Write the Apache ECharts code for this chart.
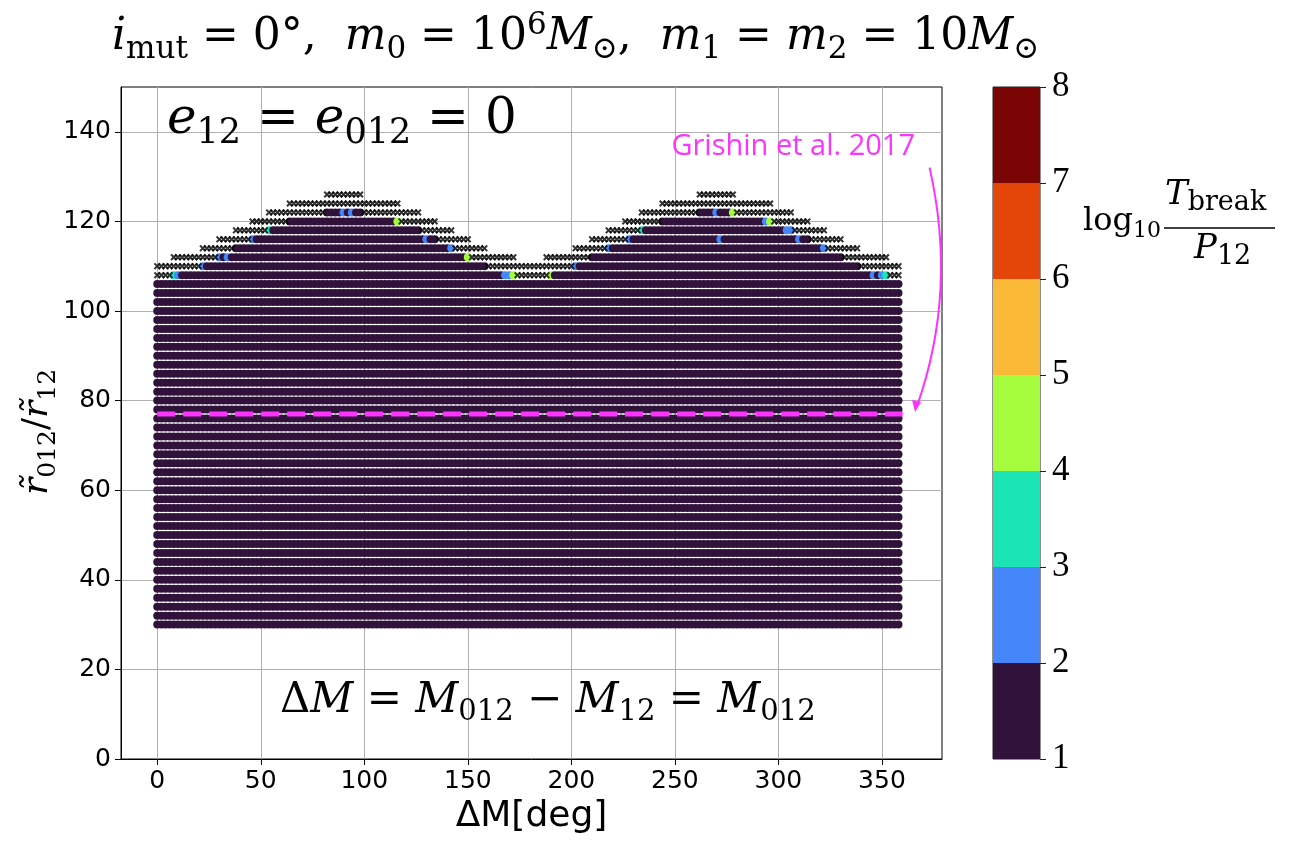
<!DOCTYPE html>
<html>
<head>
<meta charset="utf-8">
<script src="https://cdn.jsdelivr.net/npm/echarts@6/dist/echarts.min.js"></script>
<style>
  html, body { margin: 0; background: #fff; }
  #chart { width: 1295px; height: 842px; }
</style>
</head>
<body>
<div id="chart"></div>
<script>
// axis ticks
const xTicks = [0, 50, 100, 150, 200, 250, 300, 350];
const yTicks = [0, 20, 40, 60, 80, 100, 120, 140];

// colour bar: log10(Tbreak/P12) levels and band colours
const cbLevels = [1, 2, 3, 4, 5, 6, 7, 8];
const cbColors = ['#30123b', '#4686fb', '#1be5b5', '#a4fc3c', '#fbb938', '#e4460a', '#7a0403'];

// sampling of the scan
const dmStep = 2;          // deg
const dmLast = 358;
const rowStep = 2;
const rowFirst = 30;
const rowFullLast = 106;   // rows up to here are stable everywhere
const stableLog = 1.5;     // bulk value (lowest band)

// upper rows: [crossFrom, stableFrom, stableTo, crossTo] for each hump, null = no stable part
const topRows = [108, 110, 112, 114, 116, 118, 120, 122, 124, 126];
const hump1 = [
  [0, 8, 172, 188], [0, 22, 158, 180], [8, 30, 150, 172], [22, 38, 142, 158],
  [30, 46, 134, 150], [38, 54, 126, 142], [46, 64, 116, 134], [54, 82, 98, 126],
  [64, null, null, 116], [82, null, null, 98]
];
const hump2 = [
  [190, 190, 352, 358], [182, 202, 338, 358], [188, 210, 330, 352], [202, 218, 322, 338],
  [210, 228, 314, 330], [218, 234, 306, 322], [226, 244, 296, 314], [234, 262, 278, 306],
  [244, null, null, 296], [262, null, null, 278]
];

// points that are not in the lowest band: [dM, r, log10 Tbreak/P12]
const oddPts = [
  [90, 122, 2.5], [94, 122, 2.5], [116, 120, 4.5], [54, 118, 3.5], [46, 116, 2.5],
  [130, 116, 2.5], [142, 114, 2.5], [30, 112, 2.5], [34, 112, 2.5], [150, 112, 4.5],
  [22, 110, 2.5], [8, 108, 3.5], [10, 108, 2.5], [168, 108, 2.5], [170, 108, 2.5],
  [172, 108, 4.5],
  [270, 122, 2.5], [278, 122, 4.5], [294, 120, 2.5], [296, 120, 4.5], [234, 118, 3.5],
  [304, 118, 2.5], [306, 118, 2.5], [228, 116, 2.5], [272, 116, 2.5], [310, 116, 2.5],
  [218, 114, 2.5], [322, 114, 2.5], [202, 110, 2.5], [190, 108, 4.5], [346, 108, 2.5],
  [350, 108, 2.5], [352, 108, 3.5]
];

// Grishin et al. 2017 stability limit
const grishinY = 77;
const grishinX = [0, 360];

// ---- build series data
const oddMap = {};
oddPts.forEach(function (p) { oddMap[p[0] + '_' + p[1]] = p[2]; });

let stable = [];
let crossed = [];
function addStable(x, y) {
  let v = oddMap[x + '_' + y];
  stable.push([x, y, v === undefined ? stableLog : v]);
}
for (let y = rowFirst; y <= rowFullLast; y += rowStep) {
  for (let x = 0; x <= dmLast; x += dmStep) addStable(x, y);
}
topRows.forEach(function (y, i) {
  [hump1[i], hump2[i]].forEach(function (h) {
    let cFrom = h[0], sFrom = h[1], sTo = h[2], cTo = h[3];
    if (sFrom === null) {
      for (let x = cFrom; x <= cTo; x += dmStep) crossed.push([x, y]);
      return;
    }
    for (let x = cFrom; x < sFrom; x += dmStep) crossed.push([x, y]);
    for (let x = sFrom; x <= sTo; x += dmStep) addStable(x, y);
    for (let x = sTo + dmStep; x <= cTo; x += dmStep) crossed.push([x, y]);
  });
});

const pieces = [];
for (let i = 0; i < cbColors.length; i++) {
  pieces.push({ gte: cbLevels[i], lt: cbLevels[i + 1], color: cbColors[i] });
}

// colour bar bars, drawn top band first so lower ones overlay
const cbSeries = [];
for (let i = cbColors.length - 1; i >= 0; i--) {
  cbSeries.push({
    type: 'bar',
    xAxisIndex: 1, yAxisIndex: 1,
    barWidth: '100%',
    barGap: '-100%',
    silent: true,
    itemStyle: { color: cbColors[i] },
    data: [cbLevels[i + 1]]
  });
}

const serif = '"DejaVu Serif", "Liberation Serif", serif';
const sans = '"DejaVu Sans", sans-serif';
const magenta = '#ff33ff';
const crossPath = 'path://M0,2L2,0L5,3L8,0L10,2L7,5L10,8L8,10L5,7L2,10L0,8L3,5Z';

function mathRich(size, subSize) {
  let sub = subSize || Math.round(size * 0.7);
  return {
    it: { fontFamily: serif, fontStyle: 'italic', fontSize: size, lineHeight: size * 1.25, color: '#000' },
    rm: { fontFamily: serif, fontSize: size, lineHeight: size * 1.25, color: '#000' },
    sub: { fontFamily: serif, fontSize: sub, lineHeight: sub * 0.8, verticalAlign: 'bottom', color: '#000' },
    sup: { fontFamily: serif, fontSize: sub, lineHeight: sub * 0.8, verticalAlign: 'top', color: '#000' }
  };
}

let chart = echarts.init(document.getElementById('chart'));

let option = {
  animation: false,
  backgroundColor: '#fff',
  grid: [
    { left: 121, right: 353, top: 87, bottom: 83, show: true, borderColor: '#000', borderWidth: 1, backgroundColor: 'transparent' },
    { left: 993, width: 47, top: 87, bottom: 83, show: true, borderColor: '#222', borderWidth: 1 }
  ],
  xAxis: [
    {
      type: 'value', min: -17.5, max: 379, gridIndex: 0,
      axisLine: { onZero: false, lineStyle: { color: '#000', width: 1 } },
      axisTick: { show: true, length: 6, customValues: xTicks, lineStyle: { color: '#000' } },
      axisLabel: { customValues: xTicks, color: '#000', fontFamily: sans, fontSize: 25, margin: 10 },
      splitLine: { show: true, lineStyle: { color: '#b0b0b0', width: 1 } },
      name: 'ΔM[deg]', nameLocation: 'middle', nameGap: 40,
      nameTextStyle: { color: '#000', fontFamily: sans, fontSize: 36 }
    },
    {
      type: 'category', gridIndex: 1, data: [''],
      axisLine: { show: false }, axisTick: { show: false }, axisLabel: { show: false }
    }
  ],
  yAxis: [
    {
      type: 'value', min: 0, max: 150, gridIndex: 0,
      axisLine: { onZero: false, lineStyle: { color: '#000', width: 1 } },
      axisTick: { show: true, length: 6, customValues: yTicks, lineStyle: { color: '#000' } },
      axisLabel: { customValues: yTicks, color: '#000', fontFamily: sans, fontSize: 25, margin: 10 },
      splitLine: { show: true, lineStyle: { color: '#b0b0b0', width: 1 } }
    },
    {
      type: 'value', min: 1, max: 8, interval: 1, gridIndex: 1, position: 'right',
      axisLine: { show: false },
      axisTick: { show: true, length: 6, lineStyle: { color: '#222' } },
      axisLabel: { color: '#000', fontFamily: '"Liberation Serif", serif', fontSize: 35, margin: 12 },
      splitLine: { show: false }
    }
  ],
  visualMap: {
    type: 'piecewise', show: false, seriesIndex: 0, dimension: 2, pieces: pieces
  },
  series: [
    {
      name: 'stable',
      type: 'scatter',
      symbolSize: 8,
      progressive: 0,
      itemStyle: { opacity: 1 },
      data: stable,
      z: 3
    },
    {
      name: 'unstable',
      type: 'scatter',
      symbol: crossPath,
      symbolSize: 7,
      progressive: 0,
      itemStyle: { color: '#000' },
      data: crossed,
      z: 3
    },
    {
      name: 'Grishin et al. 2017',
      type: 'line',
      symbol: 'none',
      lineStyle: { color: magenta, width: 5, type: [18, 8] },
      data: grishinX.map(function (x) { return [x, grishinY]; }),
      z: 5
    }
  ].concat(cbSeries)
};
chart.setOption(option);

// annotations
let tip = chart.convertToPixel({ gridIndex: 0 }, [366, grishinY]);
let tail = chart.convertToPixel({ gridIndex: 0 }, [373, 132]);

chart.setOption({
  graphic: [
    {
      type: 'text', left: 112, top: 10,
      style: {
        text: '{it|i}{sub|mut}{rm| = 0°,  }{it|m}{sub|0}{rm| = 10}{sup|6}{it|M}{sub|⊙}{rm|,  }{it|m}{sub|1}{rm| = }{it|m}{sub|2}{rm| = 10}{it|M}{sub|⊙}',
        rich: mathRich(44)
      }
    },
    {
      type: 'text', left: 167, top: 95,
      style: {
        text: '{it|e}{sub|12}{rm| = }{it|e}{sub|012}{rm| = 0}',
        rich: mathRich(50)
      }
    },
    {
      type: 'text', left: 280, top: 680,
      style: {
        text: '{rm|Δ}{it|M}{rm| = }{it|M}{sub|012}{rm| − }{it|M}{sub|12}{rm| = }{it|M}{sub|012}',
        rich: mathRich(42)
      }
    },
    {
      type: 'text', x: 38, y: 432, rotation: Math.PI / 2,
      style: {
        x: 0, y: 0, align: 'center', verticalAlign: 'middle',
        text: '{it|r̃}{sub|012}{rm|/}{it|r̃}{sub|12}',
        rich: mathRich(36)
      }
    },
    {
      type: 'text', left: 1083, top: 206,
      style: { text: '{rm|log}{sub|10}', rich: mathRich(32, 22) }
    },
    {
      type: 'text', left: 1165, top: 178,
      style: { text: '{it|T}{sub|break}', rich: mathRich(34, 27) }
    },
    {
      type: 'line', shape: { x1: 1164, y1: 228, x2: 1275, y2: 228 },
      style: { stroke: '#000', lineWidth: 1.5 }
    },
    {
      type: 'text', left: 1194, top: 232,
      style: { text: '{it|P}{sub|12}', rich: mathRich(34, 27) }
    },
    {
      type: 'text', x: 915, y: 147,
      style: {
        text: 'Grishin et al. 2017', fill: magenta, align: 'right', verticalAlign: 'middle',
        font: '29px "Open Sans", Lato, sans-serif'
      }
    },
    {
      type: 'bezierCurve',
      shape: { x1: tail[0], y1: tail[1], x2: tip[0] + 2, y2: tip[1] - 8, cpx1: tail[0] + 28, cpy1: (tail[1] + tip[1]) / 2 },
      style: { stroke: magenta, lineWidth: 2, fill: null }
    },
    {
      type: 'polygon',
      shape: { points: [[tip[0], tip[1] - 2], [tip[0] - 3, tip[1] - 14], [tip[0] + 6, tip[1] - 12]] },
      style: { fill: magenta }
    }
  ]
});
</script>
</body>
</html>
